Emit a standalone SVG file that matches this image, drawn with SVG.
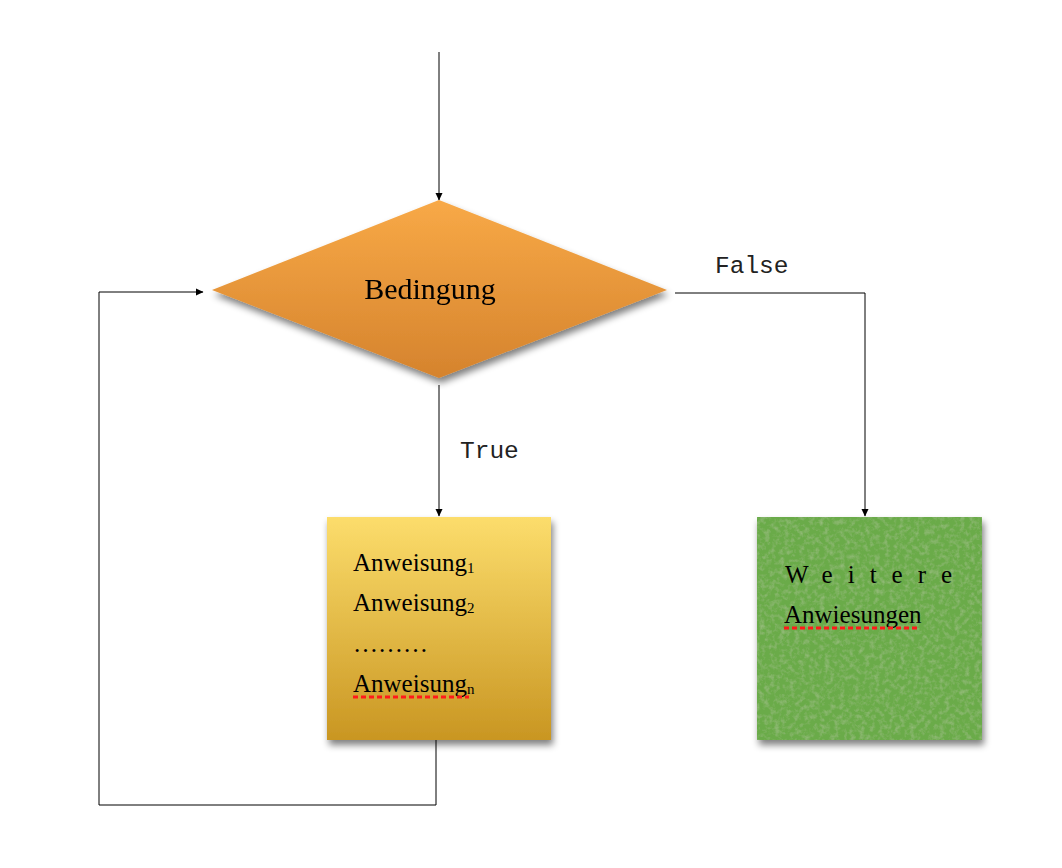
<svg xmlns="http://www.w3.org/2000/svg" width="1062" height="868" viewBox="0 0 1062 868">
<style>
.ln{fill:none;stroke:#000;stroke-width:1}
.tm{font-family:"Liberation Serif",serif;fill:#000}
.mono{font-family:"Liberation Mono",monospace;font-size:24.5px;fill:#222}
.ul{stroke:#ff1a1a;stroke-width:3;stroke-dasharray:5 3}
</style>
<defs>
<marker id="ah" markerWidth="8" markerHeight="8" refX="7" refY="4" orient="auto" markerUnits="userSpaceOnUse"><path d="M0,0.5 L7.5,4 L0,7.5 Z" fill="#000"/></marker>
<linearGradient id="gOr" x1="0" y1="0" x2="0" y2="1"><stop offset="0" stop-color="#f8a947"/><stop offset="1" stop-color="#d5832d"/></linearGradient>
<linearGradient id="gYe" x1="0" y1="0" x2="0" y2="1"><stop offset="0" stop-color="#fcdd6c"/><stop offset="1" stop-color="#c99622"/></linearGradient>
<filter id="sh" x="-10%" y="-10%" width="130%" height="130%"><feGaussianBlur in="SourceAlpha" stdDeviation="3.5"/><feOffset dx="2" dy="5"/><feComponentTransfer><feFuncA type="linear" slope="0.5"/></feComponentTransfer><feMerge><feMergeNode/><feMergeNode in="SourceGraphic"/></feMerge></filter>
<filter id="grass" x="0" y="0" width="100%" height="100%"><feTurbulence type="fractalNoise" baseFrequency="0.2" numOctaves="3" seed="4" result="n"/><feColorMatrix in="n" type="matrix" values="0 0 0 0 0.33  0 0 0 0 0.52  0 0 0 0 0.22  0 0 0 1.6 -0.7" result="c"/><feComposite in="c" in2="SourceGraphic" operator="atop"/></filter>
</defs>
<g id="connectors">
<line class="ln" x1="439" y1="52" x2="439" y2="200" marker-end="url(#ah)"/>
<line class="ln" x1="439" y1="385" x2="439" y2="516" marker-end="url(#ah)"/>
<polyline class="ln" points="675,293 865,293 865,516" marker-end="url(#ah)"/>
<polyline class="ln" points="436,740 436,805 99,805 99,292 203,292" marker-end="url(#ah)"/>
<text class="mono" x="715" y="273">False</text>
<text class="mono" x="460" y="458">True</text>
</g>
<g id="bedingung" filter="url(#sh)">
<polygon points="439,200 667,290 439,378 212,290" fill="url(#gOr)"/>
<text class="tm" x="430" y="299" font-size="30" text-anchor="middle">Bedingung</text>
</g>
<g id="anweisungen">
<rect x="327" y="517" width="224" height="223" fill="url(#gYe)" filter="url(#sh)"/>
<g class="tm" font-size="25">
<text x="353" y="571">Anweisung<tspan font-size="15" dy="2">1</tspan></text>
<text x="353" y="611">Anweisung<tspan font-size="15" dy="2">2</tspan></text>
<text x="353" y="652">………</text>
<text x="353" y="692">Anweisung<tspan font-size="15" dy="2">n</tspan></text>
</g>
<line class="ul" x1="353" y1="697" x2="469" y2="697"/>
</g>
<g id="weitere">
<g filter="url(#sh)"><rect x="757" y="517" width="225" height="223" fill="#6aab48" filter="url(#grass)"/></g>
<text class="tm" x="785" y="583" font-size="25" letter-spacing="15">Weitere</text>
<text class="tm" x="784" y="623" font-size="25">Anwiesungen</text>
<line class="ul" x1="784" y1="628" x2="920" y2="628"/>
</g>
</svg>
